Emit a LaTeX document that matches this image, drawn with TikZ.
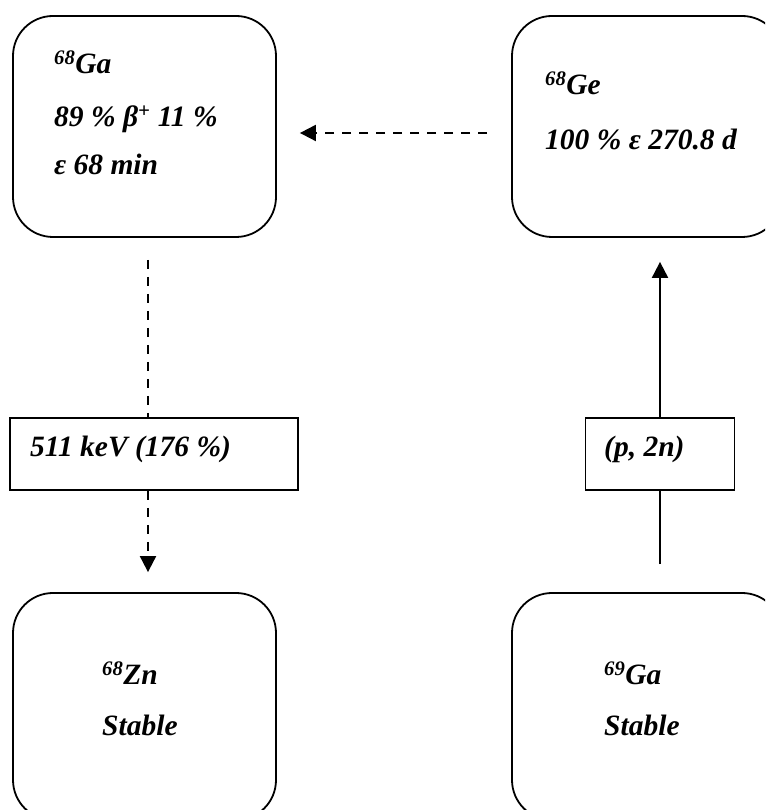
\documentclass[tikz,border=0pt]{standalone}
\usepackage{fontspec}
\setmainfont{Liberation Serif}
\usetikzlibrary{positioning}
\usetikzlibrary{arrows.meta}

\begin{document}
\begin{tikzpicture}[x=1pt,y=1pt,
    nuclide/.style={draw, line width=1.8pt, rounded corners=40pt, inner sep=0pt},
    labelbox/.style={draw, line width=1.8pt, inner sep=0pt, minimum height=72pt},
    txt/.style={anchor=base west, inner sep=0pt, font=\bfseries\itshape\fontsize{29.5}{35}\selectfont},
    decayline/.style={line width=2pt, dash pattern=on 9pt off 8pt},
    tip/.style={-{Triangle[length=16pt,width=16pt]}}]
    \useasboundingbox (0,0) rectangle (765,810);
    \clip (0,0) rectangle (765,810);

    \node[nuclide, minimum width=263pt, minimum height=221pt] (ga68) at (144.5,683.5) {};
    \node[nuclide, minimum width=270pt, minimum height=221pt] (ge68) at (647,683.5) {};
    \node[nuclide, minimum width=263pt, minimum height=227pt] (zn68) at (144.5,103.5) {};
    \node[nuclide, minimum width=270pt, minimum height=227pt] (ga69) at (647,103.5) {};

    \node[labelbox, minimum width=288pt] (gamma) at (154,356) {};
    \node[labelbox, minimum width=149pt] (react) at (660,356) {};

    \node[txt] (ga68a) at (54,736) {\textsuperscript{68}Ga};
    \node[txt] (ga68b) at (54,683) {89 \% β\textsuperscript{+} 11 \%};
    \node[txt] (ga68c) at (54,635) {ε 68 min};

    \node[txt] (ge68a) at (545,715) {\textsuperscript{68}Ge};
    \node[txt] (ge68b) at (545,660) {100 \% ε 270.8 d};

    \node[txt] (zn68a) at (102,125) {\textsuperscript{68}Zn};
    \node[txt] (zn68b) at (102,74) {Stable};

    \node[txt] (ga69a) at (604,125) {\textsuperscript{69}Ga};
    \node[txt] (ga69b) at (604,74) {Stable};

    \node[txt] (gammat) at (30,353) {511 keV (176 \%)};
    \node[txt] (reactt) at (604,353) {(p, 2n)};

    \coordinate (gx) at (148,0);
    \coordinate (gy) at (0,677);

    \draw[decayline, shorten <=22pt] (ga68.south -| gx) -- (gamma.north -| gx);
    \draw[decayline, tip, shorten >=20pt] (gamma.south -| gx) -- (zn68.north -| gx);
    \draw[decayline, tip, shorten <=24pt, shorten >=23pt] (ge68.west |- gy) -- (ga68.east |- gy);

    \draw[line width=2pt, shorten <=28pt] (react.south |- ga69.north) -- (react.south);
    \draw[line width=2pt, tip, shorten >=24pt] (react.north) -- (react.north |- ge68.south);
\end{tikzpicture}
\end{document}
